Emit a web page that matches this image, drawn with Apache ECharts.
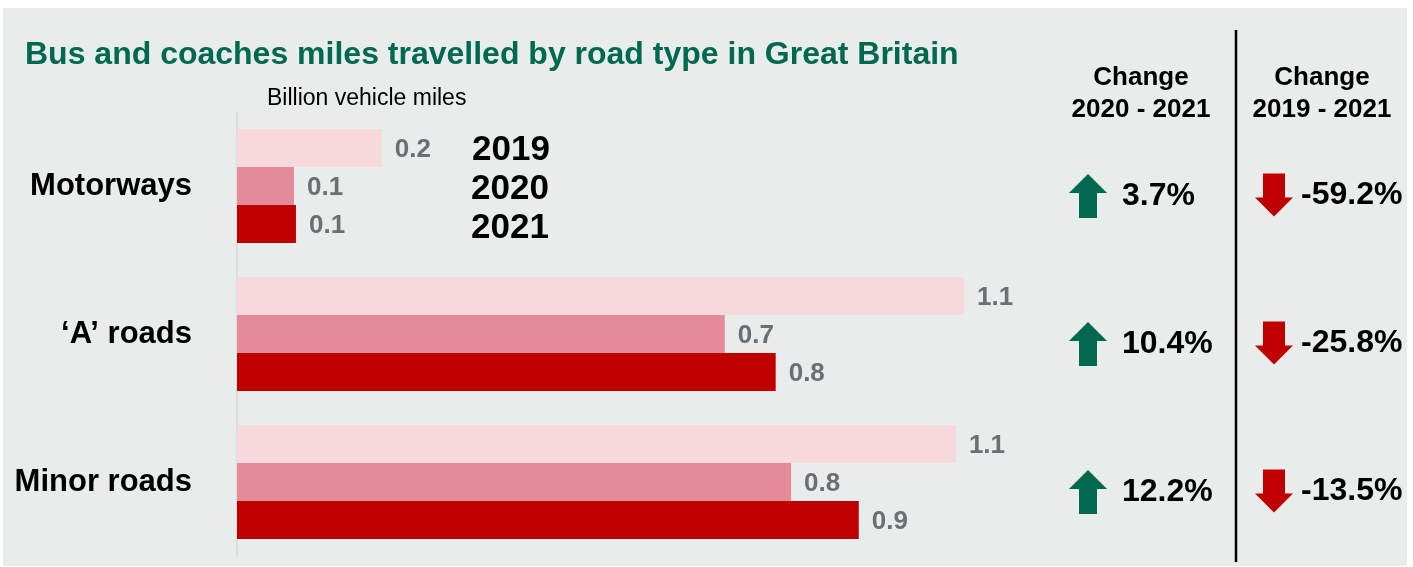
<!DOCTYPE html>
<html>
<head>
<meta charset="utf-8">
<script src="https://cdn.jsdelivr.net/npm/echarts@6/dist/echarts.min.js"></script>
<style>
  html, body { margin: 0; padding: 0; background: #ffffff; }
  #chart { width: 1413px; height: 567px; }
</style>
</head>
<body>
<div id="chart"></div>
<script>
// Billion vehicle miles, bus and coaches, by road type
const roadTypes = ['Motorways', '\u2018A\u2019 roads', 'Minor roads'];
const years = ['2019', '2020', '2021'];
const miles2019 = [0.216, 1.085, 1.073];
const miles2020 = [0.085, 0.728, 0.827];
const miles2021 = [0.088, 0.804, 0.928];
// percentage change
const change2020to2021 = [3.7, 10.4, 12.2];
const change2019to2021 = [-59.2, -25.8, -13.5];

const FONT = "'Liberation Sans', Arial, sans-serif";
const barColors = ['#f6d8dd', '#e48b9a', '#c00000'];
const green = '#00694f';
const red = '#c00000';
const upArrow = 'path://M19,0 L38,19 L28,19 L28,44 L10,44 L10,19 L0,19 Z';
const downArrow = 'path://M8,0 L30,0 L30,24 L38,24 L19,43 L0,24 L8,24 Z';

const chart = echarts.init(document.getElementById('chart'));

const barSeries = [miles2019, miles2020, miles2021].map((vals, i) => ({
  name: years[i],
  type: 'bar',
  xAxisIndex: 0,
  yAxisIndex: 0,
  barWidth: 38,
  barGap: '0%',
  data: vals,
  itemStyle: { color: barColors[i] },
  label: {
    show: true,
    position: 'right',
    distance: 13,
    offset: [0, 2],
    formatter: p => p.value.toFixed(1),
    fontFamily: FONT,
    fontSize: 26,
    fontWeight: 'bold',
    color: '#6b6e72'
  },
  silent: true
}));

function changeSeries(vals, gridIdx, dist) {
  return {
    type: 'scatter',
    xAxisIndex: gridIdx,
    yAxisIndex: gridIdx,
    data: vals.map((v, i) => [0, i, v]),
    symbol: (d) => d[2] >= 0 ? upArrow : downArrow,
    symbolSize: (d) => d[2] >= 0 ? [38, 44] : [38, 43],
    itemStyle: { color: p => p.data[2] >= 0 ? green : red, opacity: 1 },
    label: {
      show: true,
      position: 'right',
      distance: dist,
      formatter: p => p.data[2].toFixed(1) + '%',
      fontFamily: FONT,
      fontSize: 32,
      fontWeight: 'bold',
      color: '#000000'
    },
    silent: true
  };
}

const hiddenX = { type: 'value', min: 0, max: 1, show: false };
const hiddenY = { type: 'category', data: roadTypes, inverse: true, show: false };

chart.setOption({
  backgroundColor: '#ffffff',
  animation: false,
  title: {
    text: 'Bus and coaches miles travelled by road type in Great Britain',
    left: 20,
    top: 34,
    textStyle: { fontFamily: FONT, fontSize: 32, fontWeight: 'bold', color: green }
  },
  grid: [
    { left: 237, top: 112, width: 804, height: 444 },
    { left: 1088, top: 122, width: 100, height: 444 },
    { left: 1274, top: 121, width: 100, height: 444 }
  ],
  xAxis: [
    { type: 'value', min: 0, max: 1.2, show: false, gridIndex: 0 },
    Object.assign({ gridIndex: 1 }, hiddenX),
    Object.assign({ gridIndex: 2 }, hiddenX)
  ],
  yAxis: [
    {
      type: 'category',
      gridIndex: 0,
      data: roadTypes,
      inverse: true,
      axisLine: { show: true, lineStyle: { color: '#d6dada', width: 1.5 } },
      axisTick: { show: false },
      axisLabel: {
        margin: 45,
        padding: [6, 0, 0, 0],
        fontFamily: FONT,
        fontSize: 31,
        fontWeight: 'bold',
        color: '#000000'
      }
    },
    Object.assign({ gridIndex: 1 }, hiddenY),
    Object.assign({ gridIndex: 2 }, hiddenY)
  ],
  graphic: [
    {
      type: 'rect', z: -10, silent: true,
      shape: { x: 3, y: 8, width: 1404, height: 558 },
      style: { fill: '#e8eceb' }
    },
    {
      type: 'text', left: 267, top: 87, silent: true,
      style: { text: 'Billion vehicle miles', font: '23px ' + FONT, fill: '#000000' }
    },
    {
      type: 'text', x: 511, y: 150, silent: true,
      style: { text: years[0], font: 'bold 35px ' + FONT, fill: '#000000', align: 'center', verticalAlign: 'middle' }
    },
    {
      type: 'text', x: 510, y: 189, silent: true,
      style: { text: years[1], font: 'bold 35px ' + FONT, fill: '#000000', align: 'center', verticalAlign: 'middle' }
    },
    {
      type: 'text', x: 510, y: 228, silent: true,
      style: { text: years[2], font: 'bold 35px ' + FONT, fill: '#000000', align: 'center', verticalAlign: 'middle' }
    },
    {
      type: 'text', x: 1141, y: 94, silent: true,
      style: {
        text: 'Change\n2020 - 2021', font: 'bold 26px ' + FONT, fill: '#000000',
        align: 'center', verticalAlign: 'middle', lineHeight: 32
      }
    },
    {
      type: 'text', x: 1322, y: 94, silent: true,
      style: {
        text: 'Change\n2019 - 2021', font: 'bold 26px ' + FONT, fill: '#000000',
        align: 'center', verticalAlign: 'middle', lineHeight: 32
      }
    },
    {
      type: 'line', silent: true,
      shape: { x1: 1236, y1: 30, x2: 1236, y2: 562 },
      style: { stroke: '#000000', lineWidth: 2.5 }
    }
  ],
  series: barSeries.concat([
    changeSeries(change2020to2021, 1, 15),
    changeSeries(change2019to2021, 2, 8)
  ])
});
</script>
</body>
</html>
